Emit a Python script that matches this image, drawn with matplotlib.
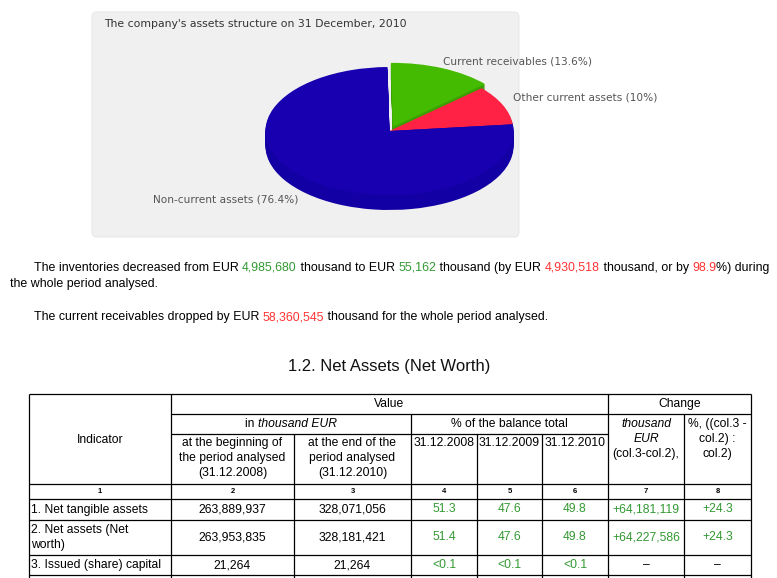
import matplotlib
matplotlib.use("Agg")
import matplotlib.pyplot as plt
from matplotlib.patches import FancyBboxPatch

# pie data
pie_title = "The company's assets structure on 31 December, 2010"
pie_names = ["Other current assets", "Current receivables", "Non-current assets"]
pie_values = [10, 13.6, 76.4]
pie_top = ["#ff2244", "#44bb00", "#1800b0"]
# side colours: only the front (blue) and the pulled-out green side can be seen
pie_side = ["#1300a4", "#3aa000", "#1300a4"]

# paragraph text, pieces as (text, colour)
GREEN = "#339933"
RED = "#ff3333"
BLACK = "#000000"
para1 = [("The inventories decreased from EUR ", BLACK), ("4,985,680", GREEN),
         (" thousand to EUR ", BLACK), ("55,162", GREEN),
         (" thousand (by EUR ", BLACK), ("4,930,518", RED),
         (" thousand, or by ", BLACK), ("98.9", RED), ("%) during", BLACK)]
para1b = [("the whole period analysed.", BLACK)]
para2 = [("The current receivables dropped by EUR ", BLACK), ("58,360,545", RED),
         (" thousand for the whole period analysed.", BLACK)]

table_title = "1.2. Net Assets (Net Worth)"
col_numbers = ["1", "2", "3", "4", "5", "6", "7", "8"]
indicators = ["1. Net tangible assets", "2. Net assets (Net\nworth)", "3. Issued (share) capital"]
begin_vals = ["263,889,937", "263,953,835", "21,264"]
end_vals = ["328,071,056", "328,181,421", "21,264"]
pct_2008 = ["51.3", "51.4", "<0.1"]
pct_2009 = ["47.6", "47.6", "<0.1"]
pct_2010 = ["49.8", "49.8", "<0.1"]
chg_abs = ["+64,181,119", "+64,227,586", "\u2013"]
chg_pct = ["+24.3", "+24.3", "\u2013"]

W, H = 777, 578
fig = plt.figure(figsize=(W / 100, H / 100), dpi=100)
fig.patch.set_facecolor("white")
ax = fig.add_axes([0, 0, 1, 1])
ax.set_xlim(0, W)
ax.set_ylim(H, 0)
ax.axis("off")
renderer = fig.canvas.get_renderer()
FONT = "Liberation Sans"

# grey chart box
ax.add_patch(FancyBboxPatch((92, 12), 427, 225, boxstyle="round,pad=0,rounding_size=5",
                            fc="#f0f0f0", ec="#e8e8e8", lw=0.8, zorder=0))
ax.text(104, 24, pie_title, fontsize=7.8, color="#333333", va="center", family="DejaVu Sans")

# pie (3d look made from stacked layers)
cx, cy, rx, ry, depth = 389.5, 131, 124, 64, 15
pl, pr, pt, pb = cx - 1.25 * rx, cx + 1.25 * rx, cy - 90, cy + 100
pax = fig.add_axes([pl / W, 1 - pb / H, (pr - pl) / W, (pb - pt) / H])
explode = [0, 0.07, 0]
start = 6
for d in range(depth, 0, -1):
    pax.pie(pie_values, colors=pie_side, startangle=start, counterclock=True,
            explode=explode, center=(0, -d / ry), wedgeprops=dict(lw=0))
pax.pie(pie_values, colors=pie_top, startangle=start, counterclock=True,
        explode=explode, wedgeprops=dict(lw=0))
pax.set_aspect("auto")
pax.set_xlim(-1.25, 1.25)
pax.set_ylim(-(pb - cy) / ry, (cy - pt) / ry)
pax.axis("off")

lab_pos = [(513, 97), (443, 61), (153, 200)]
for name, v, (x, y) in zip(pie_names, pie_values, lab_pos):
    ax.text(x, y, f"{name} ({v:g}%)", fontsize=7.6, color="#555555", va="center",
            family="DejaVu Sans")


def text_width(s, size, style="normal"):
    t = ax.text(0, 0, s, fontsize=size, family=FONT, style=style)
    w = t.get_window_extent(renderer).width
    t.remove()
    return w


def rich_line(x, y, pieces, size, ha="left"):
    # pieces: (text, colour, style)
    widths = [text_width(s, size, st) for s, c, st in pieces]
    if ha == "center":
        x = x - sum(widths) / 2
    for (s, c, st), w in zip(pieces, widths):
        ax.text(x, y, s, fontsize=size, color=c, style=st, family=FONT, va="center")
        x += w


# coloured paragraphs, font sized so the first line spans like the original
plain1 = "".join(s for s, c in para1)
psize = 9.6 * 735 / text_width(plain1, 9.6)
rich_line(34, 268, [(s, c, "normal") for s, c in para1], psize)
rich_line(10, 284, [(s, c, "normal") for s, c in para1b], psize)
rich_line(34, 317, [(s, c, "normal") for s, c in para2], psize)

ax.text(389, 367, table_title, fontsize=12, ha="center", va="center",
        family=FONT, color="#111111")

# table grid
cols = [29, 171, 294, 411, 477, 542, 608, 684, 751]
rows = [394, 414, 434, 484, 499, 520, 555, 575]
lw = 0.9
ax.hlines(rows[0], cols[0], cols[-1], color="black", lw=lw)
ax.hlines(rows[1], cols[1], cols[-1], color="black", lw=lw)
ax.hlines(rows[2], cols[1], cols[6], color="black", lw=lw)
ax.hlines(rows[3:], cols[0], cols[-1], color="black", lw=lw)
for i, x in enumerate(cols):
    if i in (0, 1, 6, 8):
        top = rows[0]
    elif i in (3, 7):
        top = rows[1]
    else:
        top = rows[2]
    ax.vlines(x, top, H, color="black", lw=lw)

ts = 8.7
LS = 1.3


def cell(x, y, s, **kw):
    kw.setdefault("fontsize", ts)
    ax.text(x, y, s, ha="center", va="center", family=FONT, linespacing=LS, **kw)


def mid(i):
    return (cols[i] + cols[i + 1]) / 2


cell(mid(0), 440, "Indicator")
cell((cols[1] + cols[6]) / 2, 404, "Value")
cell((cols[6] + cols[8]) / 2, 404, "Change")
rich_line((cols[1] + cols[3]) / 2, 424,
          [("in ", BLACK, "normal"), ("thousand EUR", BLACK, "italic")], ts, ha="center")
cell((cols[3] + cols[6]) / 2, 424, "% of the balance total")
cell(mid(1), 458, "at the beginning of\nthe period analysed\n(31.12.2008)")
cell(mid(2), 458, "at the end of the\nperiod analysed\n(31.12.2010)")
for i, s in zip((3, 4, 5), ("31.12.2008", "31.12.2009", "31.12.2010")):
    cell(mid(i), 443, s)
cell(mid(6), 431.5, "thousand\nEUR", style="italic")
cell(mid(6), 454, "(col.3-col.2),")
cell(mid(7), 439, "%, ((col.3 -\ncol.2) :\ncol.2)")

for i, s in enumerate(col_numbers):
    cell(mid(i), 491.5, s, fontsize=5.5, fontweight="bold")

for r in range(len(indicators)):
    yc = (rows[4 + r] + rows[5 + r]) / 2
    ax.text(cols[0] + 2, yc, indicators[r], ha="left", va="center", family=FONT,
            fontsize=ts, linespacing=LS)
    cell(mid(1), yc, begin_vals[r])
    cell(mid(2), yc, end_vals[r])
    cell(mid(3), yc, pct_2008[r], color=GREEN)
    cell(mid(4), yc, pct_2009[r], color=GREEN)
    cell(mid(5), yc, pct_2010[r], color=GREEN)
    cell(mid(6), yc, chg_abs[r], color=GREEN if chg_abs[r] != "\u2013" else BLACK)
    cell(mid(7), yc, chg_pct[r], color=GREEN if chg_pct[r] != "\u2013" else BLACK)

fig.savefig("out.png", dpi=100, facecolor="white")
